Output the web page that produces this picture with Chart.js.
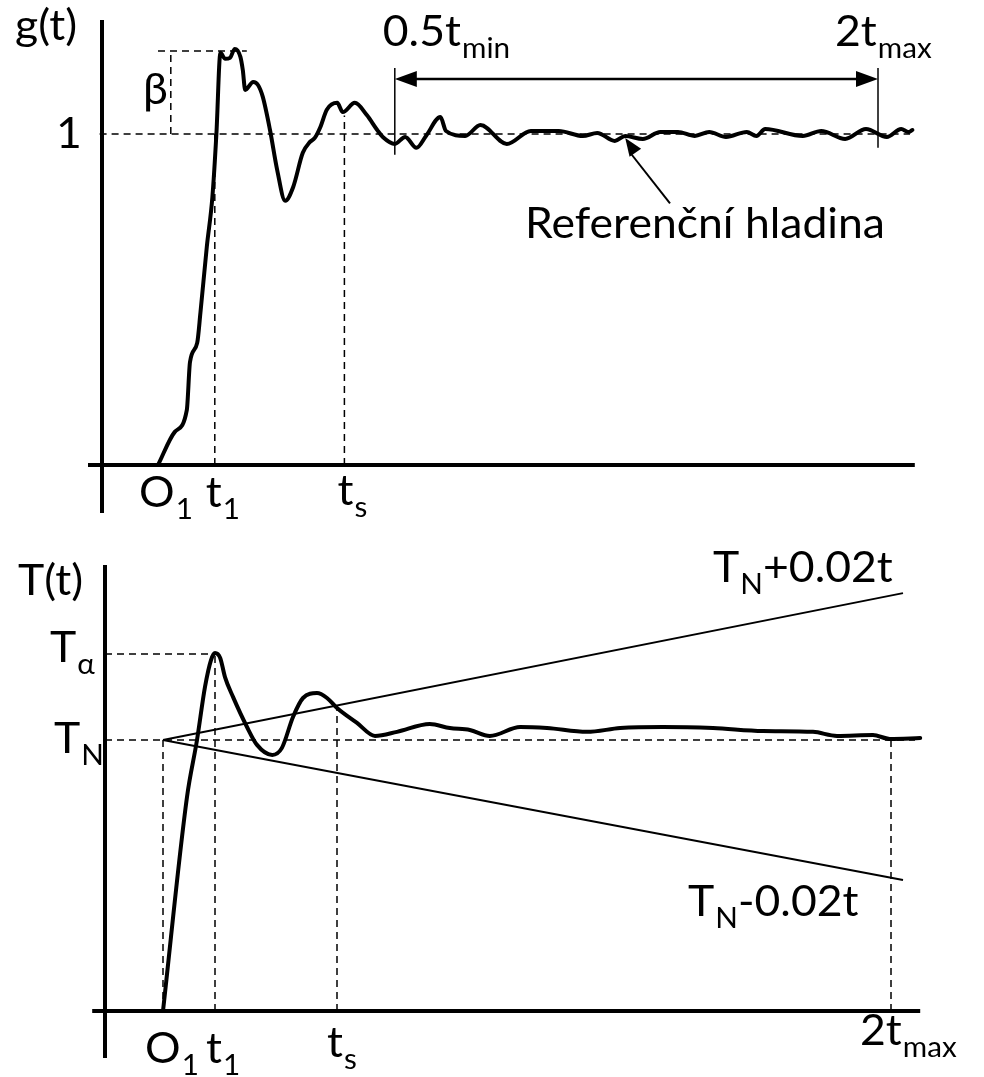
<!DOCTYPE html>
<html lang="cs">
<head>
  <meta charset="UTF-8">
  <title>g(t) a T(t)</title>
  <style>
    body { margin: 0; background: #fff; }
    .wrap { position: relative; width: 984px; height: 1077px; }
    #topChart { position: absolute; left: 0; top: 0; }
    #bottomChart { position: absolute; left: 0; top: 540px; }
  </style>
</head>
<body>
  <div class="wrap">
    <canvas id="topChart" width="984" height="540"></canvas>
    <canvas id="bottomChart" width="984" height="537"></canvas>
  </div>
  <script src="https://cdn.jsdelivr.net/npm/chart.js"></script>
  <script>
    // horni graf: prechodova odezva g(t)
    const gTime = [7.0, 9.1, 10.6, 11.0, 11.9, 12.3, 13.1, 13.8, 14.3, 14.8,
      15.4, 16.0, 16.6, 17.3, 17.6, 17.9, 18.9, 19.5, 20.1, 21.0,
      21.9, 22.9, 23.9, 25.1, 26.0, 26.6, 27.3, 28.1, 29.4, 30.1,
      31.6, 33.1, 34.4, 35.1, 36.6, 37.9, 39.3, 40.5, 42.3, 43.0,
      45.4, 47.3, 50.6, 53.6, 57.1, 60.1, 61.9, 64.1, 65.4, 67.6,
      69.8, 72.0, 74.1, 75.9, 78.0, 80.6, 81.8, 82.9, 87.6, 89.9,
      92.9, 95.5, 98.1, 99.9, 100.8, 101.3];
    const gValue = [0, 0.100, 0.166, 0.311, 0.369, 0.459, 0.659, 0.810, 1.0, 1.245,
      1.227, 1.230, 1.257, 1.233, 1.193, 1.133, 1.157, 1.148, 1.112, 1.012,
      0.891, 0.798, 0.840, 0.943, 0.976, 0.988, 1.021, 1.073, 1.094, 1.066,
      1.094, 1.057, 1.012, 0.991, 0.970, 0.991, 0.958, 0.994, 1.051, 1.009,
      0.994, 1.027, 0.970, 1.009, 1.009, 0.994, 1.003, 0.979, 0.994, 0.985,
      1.006, 1.006, 0.994, 1.006, 0.991, 1.006, 0.994, 1.015, 0.994, 1.009,
      0.985, 1.015, 0.991, 1.015, 1.006, 1.012];
    const gMarks = [7.0, 14.1, 30.3];          // O1, t1, ts
    const gWindow = [36.6, 97.0];              // 0.5tmin, 2tmax
    const gLevel = 1;
    const betaLevel = 1.251;
    const betaTime = 8.6;
    const pointerFrom = [71, 0.79];            // Referencni hladina
    const pointerTo = [65.4, 0.988];

    // dolni graf: T(t)
    const TTime = [7.25, 10.25, 11.5, 12.5, 13.25, 13.75, 14.4, 15.0, 16.0, 17.75,
      19.0, 20.9, 22.1, 23.5, 24.75, 26.5, 27.75, 29.0, 31.5, 33.75,
      36.5, 40.6, 43.1, 45.6, 48.1, 51.9, 55.25, 60.25, 64.4, 69.75,
      76.0, 82.25, 88.5, 91.5, 96.0, 98.1, 101.9];
    const TValue = [0, 0.790, 1.0, 1.196, 1.295, 1.321, 1.303, 1.232, 1.159, 1.048,
      0.982, 0.945, 0.970, 1.085, 1.155, 1.173, 1.155, 1.118, 1.063, 1.015,
      1.030, 1.059, 1.044, 1.037, 1.015, 1.048, 1.044, 1.030, 1.044, 1.048,
      1.044, 1.033, 1.030, 1.015, 1.018, 1.004, 1.007];
    const TMarks = [7.25, 13.75, 29.0, 98.25]; // O1, t1, ts, 2tmax
    const TN = 1;
    const TAlpha = 1.317;
    const bandTime = [7.25, 99.75];
    const bandUpper = [1.0, 1.542];
    const bandLower = [1.0, 0.483];

    const FONT = 'Lato, "Open Sans", sans-serif';
    const SIZE = 42;
    const SUB = 28;
    const HS = 1.06;   // text is a bit wider in the original

    function seg(x1, y1, x2, y2, width, dash) {
      return {
        data: [{ x: x1, y: y1 }, { x: x2, y: y2 }],
        borderColor: '#000', borderWidth: width, borderDash: dash || [],
        pointRadius: 0, showLine: true, tension: 0, clip: false
      };
    }
    function curve(xs, ys) {
      return {
        data: xs.map((x, i) => ({ x: x, y: ys[i] })),
        borderColor: '#000', borderWidth: 4, pointRadius: 0, showLine: true,
        cubicInterpolationMode: 'monotone', borderCapStyle: 'round',
        borderJoinStyle: 'round', clip: false
      };
    }
    function label(ctx, x, y, main, sub, tail) {
      ctx.save();
      ctx.translate(x, y);
      ctx.scale(HS, 1);
      ctx.textAlign = 'left';
      ctx.textBaseline = 'alphabetic';
      ctx.font = SIZE + 'px ' + FONT;
      ctx.fillText(main, 0, 0);
      let w = ctx.measureText(main).width;
      if (sub) {
        ctx.font = SUB + 'px ' + FONT;
        ctx.fillText(sub, w + 1, 12);
        w += ctx.measureText(sub).width + 1;
      }
      if (tail) {
        ctx.font = SIZE + 'px ' + FONT;
        ctx.fillText(tail, w, 0);
      }
      ctx.restore();
    }
    function head(ctx, x1, y1, x2, y2, len, half) {
      const a = Math.atan2(y2 - y1, x2 - x1);
      ctx.beginPath();
      ctx.moveTo(x2, y2);
      ctx.lineTo(x2 - len * Math.cos(a) + half * Math.sin(a), y2 - len * Math.sin(a) - half * Math.cos(a));
      ctx.lineTo(x2 - len * Math.cos(a) - half * Math.sin(a), y2 - len * Math.sin(a) + half * Math.cos(a));
      ctx.closePath();
      ctx.fill();
    }

    const dash = [7, 5];
    const topPlugin = {
      id: 'topText',
      afterDatasetsDraw(chart) {
        const ctx = chart.ctx, xs = chart.scales.x, ys = chart.scales.y;
        const X = v => xs.getPixelForValue(v), Y = v => ys.getPixelForValue(v);
        ctx.save();
        ctx.fillStyle = '#000';
        // sipky
        const ay = Y(1.166);
        head(ctx, X(gWindow[1]), ay, X(gWindow[0]), ay, 22, 8);
        head(ctx, X(gWindow[0]), ay, X(gWindow[1]), ay, 22, 8);
        head(ctx, X(pointerFrom[0]), Y(pointerFrom[1]), X(pointerTo[0]), Y(pointerTo[1]), 18, 7);
        // texty
        label(ctx, 15, 40, 'g(t)');
        label(ctx, 56, Y(gLevel) + 14, '1');
        label(ctx, 143, Y(betaLevel) + 53, 'β');
        label(ctx, X(gWindow[0]) - 12, 46, '0.5t', 'min');
        label(ctx, X(gWindow[1]) - 43, 46, '2t', 'max');
        label(ctx, 525, 238, 'Referenční hladina');
        const base = Y(0) + 42;
        label(ctx, X(gMarks[0]) - 19, base, 'O', '1');
        label(ctx, X(gMarks[1]) - 9, base, 't', '1');
        label(ctx, X(gMarks[2]) - 7, base - 2, 't', 's');
        ctx.restore();
      }
    };

    const bottomPlugin = {
      id: 'bottomText',
      afterDatasetsDraw(chart) {
        const ctx = chart.ctx, xs = chart.scales.x, ys = chart.scales.y;
        const X = v => xs.getPixelForValue(v), Y = v => ys.getPixelForValue(v);
        ctx.save();
        ctx.fillStyle = '#000';
        label(ctx, 18, 55, 'T(t)');
        label(ctx, 50, Y(TAlpha) + 8, 'T', 'α');
        label(ctx, 54, Y(TN) + 13, 'T', 'N');
        label(ctx, 713, 42, 'T', 'N', '+0.02t');
        label(ctx, 688, 376, 'T', 'N', '-0.02t');
        const base = Y(0) + 52;
        label(ctx, X(TMarks[0]) - 18, base, 'O', '1');
        label(ctx, X(TMarks[1]) - 9, base, 't', '1');
        label(ctx, X(TMarks[2]) - 10, base - 6, 't', 's');
        label(ctx, X(TMarks[3]) - 31, base - 18, '2t', 'max');
        ctx.restore();
      }
    };

    function baseOptions(xMin, xMax, yMin, yMax, pad) {
      return {
        responsive: false, animation: false,
        layout: { padding: pad },
        plugins: { legend: { display: false }, tooltip: { enabled: false } },
        scales: {
          x: { type: 'linear', min: xMin, max: xMax, display: false },
          y: { type: 'linear', min: yMin, max: yMax, display: false }
        }
      };
    }

    // horni graf
    const tsTop = gValue[gTime.indexOf(30.1)];
    new Chart(document.getElementById('topChart'), {
      type: 'scatter',
      data: {
        datasets: [
          seg(-1.75, 0, 101.6, 0, 4),
          seg(0, -0.145, 0, 1.344, 4),
          seg(-0.3, gLevel, 101, gLevel, 1.5, dash),
          seg(7.0, betaLevel, 18.1, betaLevel, 1.5, dash),
          seg(betaTime, gLevel, betaTime, betaLevel, 1.5, dash),
          seg(gMarks[1], 0, gMarks[1], gLevel, 1.5, dash),
          seg(gMarks[2], 0, gMarks[2], tsTop - 0.01, 1.5, dash),
          seg(gWindow[0], 0.937, gWindow[0], 1.199, 1.5),
          seg(gWindow[1], 0.958, gWindow[1], 1.199, 1.5),
          seg(gWindow[0] + 2, 1.166, gWindow[1] - 2, 1.166, 2.5),
          seg(pointerFrom[0], pointerFrom[1], pointerTo[0] + 0.8, pointerTo[1] - 0.05, 2),
          curve(gTime, gValue)
        ]
      },
      options: baseOptions(-2, 102.5, -0.2, 1.36, { left: 86, right: 62, top: 14.8, bottom: 8.8 }),
      plugins: [topPlugin]
    });

    // dolni graf
    const slope = (bandUpper[1] - bandUpper[0]) / (bandTime[1] - bandTime[0]);
    const tsBottom = TN + slope * (TMarks[2] - bandTime[0]);
    new Chart(document.getElementById('bottomChart'), {
      type: 'scatter',
      data: {
        datasets: [
          seg(-1.6, 0, 101.9, 0, 4),
          seg(0, -0.173, 0, 1.646, 4),
          seg(0, TAlpha, TMarks[1], TAlpha, 1.5, dash),
          seg(0, TN, 101.25, TN, 1.5, dash),
          seg(TMarks[0], 0, TMarks[0], TN, 1.5, dash),
          seg(TMarks[1], 0, TMarks[1], TAlpha, 1.5, dash),
          seg(TMarks[2], 0, TMarks[2], tsBottom, 1.5, dash),
          seg(TMarks[3], 0, TMarks[3], TN, 1.5, dash),
          seg(bandTime[0], bandUpper[0], bandTime[1], bandUpper[1], 2),
          seg(bandTime[0], bandLower[0], bandTime[1], bandLower[1], 2),
          curve(TTime, TValue)
        ]
      },
      options: baseOptions(-2, 102.5, -0.2, 1.7, { left: 89, right: 59, top: 10.3, bottom: 11.8 }),
      plugins: [bottomPlugin]
    });
  </script>
</body>
</html>
